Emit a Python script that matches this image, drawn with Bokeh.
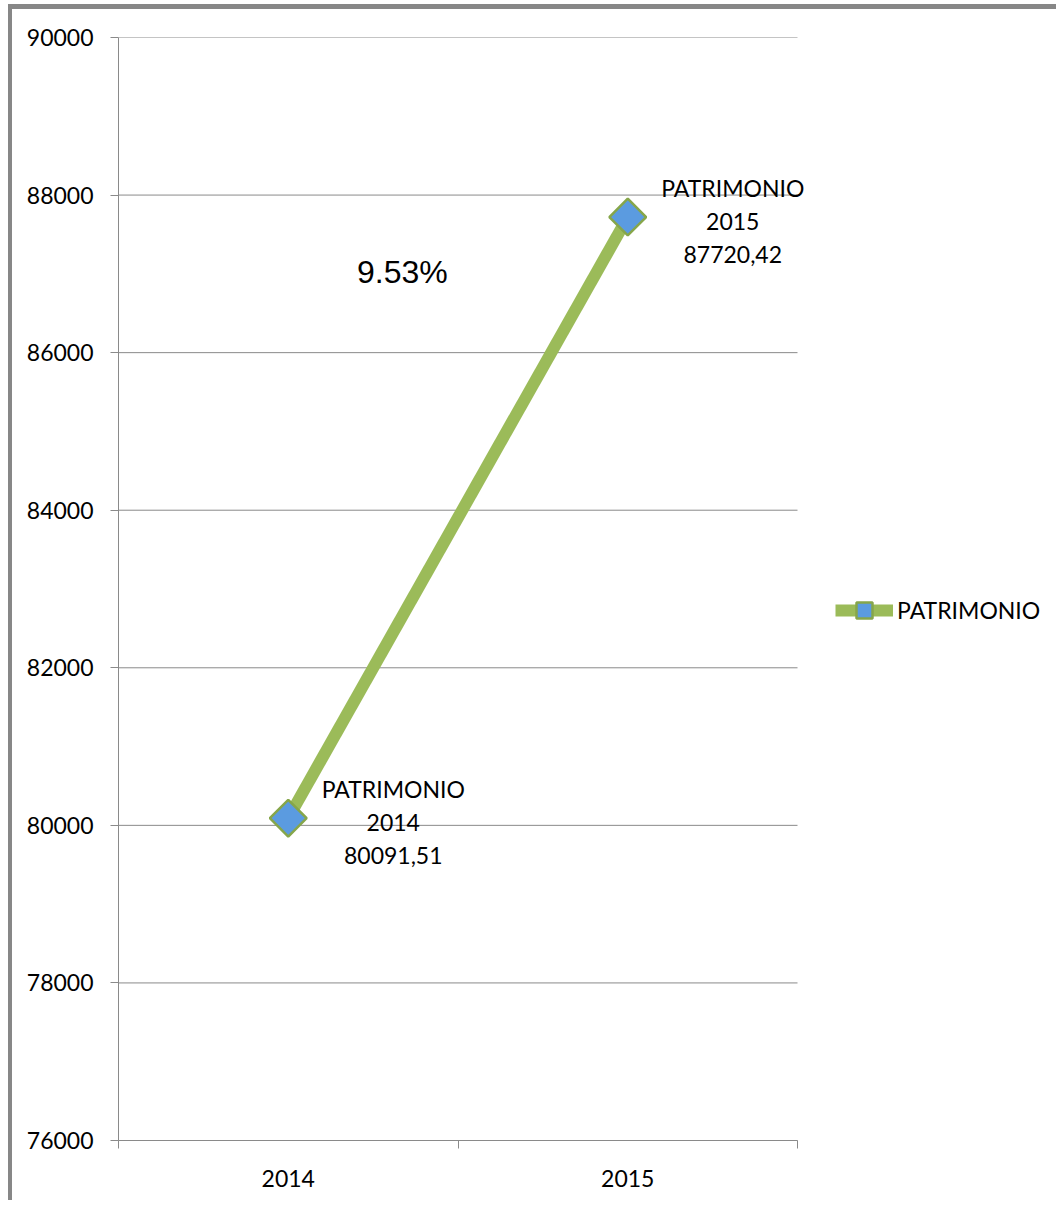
from bokeh.plotting import figure
from bokeh.models import ColumnDataSource, FixedTicker, Legend, LegendItem, Label
from bokeh.core.properties import value
from bokeh.embed import file_html
from bokeh.resources import INLINE
import math

categories = ["2014", "2015"]
patrimonio = [80091.51, 87720.42]
value_labels = ["80091,51", "87720,42"]
series_name = "PATRIMONIO"
y_ticks = [76000, 78000, 80000, 82000, 84000, 86000, 88000, 90000]
growth_label = "9.53%"

n = len(categories)
xs = [i + 0.5 for i in range(n)]
src = ColumnDataSource(dict(x=xs, y=patrimonio, name=[series_name] * n,
                            cat=categories, val=value_labels))

GRAY = "#8a8a8a"
FONT = "Lato"
LINE_C = "#9BBB59"
MARK_FILL = "#5B9BE0"
MARK_LINE = "#86A64A"

# canvas layout: the category area takes 679 px of a 942 px wide frame;
# the rest of the frame on the right holds the legend
W, H = 1048, 1196
LEFT, TOP, BOTTOM = 106, 28, 65
CAT_PX, FRAME_PX = 679, W - LEFT

p = figure(width=W, height=H, output_backend="svg", toolbar_location=None,
           x_range=(0, n * FRAME_PX / CAT_PX), y_range=(y_ticks[0], y_ticks[-1]),
           min_border_left=LEFT, min_border_right=0, min_border_top=TOP, min_border_bottom=BOTTOM,
           styles={"margin-left": "8px", "margin-top": "4px",
                   "border-top": "5px solid #878787", "border-left": "4px solid #878787"})
p.outline_line_color = None
p.background_fill_color = "white"
p.border_fill_color = "white"

# y axis
p.yaxis.ticker = FixedTicker(ticks=y_ticks)
p.yaxis.axis_line_color = GRAY
p.yaxis.major_tick_line_color = GRAY
p.yaxis.major_tick_out = 8
p.yaxis.major_tick_in = 0
p.yaxis.minor_tick_line_color = None
p.yaxis.major_label_text_font = FONT
p.yaxis.major_label_text_font_size = "23px"
p.yaxis.major_label_text_color = "black"
p.yaxis.major_label_standoff = 17

# x axis (category labels centred, tick marks on the category boundaries)
p.xaxis.ticker = FixedTicker(ticks=xs, minor_ticks=list(range(n + 1)))
p.xaxis.bounds = (0, n)
p.xaxis.major_label_overrides = {x: c for x, c in zip(xs, categories)}
p.xaxis.axis_line_color = GRAY
p.xaxis.major_tick_line_color = None
p.xaxis.major_tick_out = 0
p.xaxis.major_tick_in = 0
p.xaxis.minor_tick_line_color = GRAY
p.xaxis.minor_tick_out = 8
p.xaxis.minor_tick_in = 0
p.xaxis.major_label_text_font = FONT
p.xaxis.major_label_text_font_size = "23px"
p.xaxis.major_label_text_color = "black"
p.xaxis.major_label_standoff = 21

# horizontal gridlines limited to the category area
p.xgrid.grid_line_color = None
p.ygrid.grid_line_color = None
p.segment(x0=[0] * len(y_ticks), x1=[n] * len(y_ticks), y0=y_ticks, y1=y_ticks,
          line_color=GRAY, line_width=1)

line = p.line("x", "y", source=src, line_color=LINE_C, line_width=12)
pts = p.scatter("x", "y", source=src, marker="square", angle=math.pi / 4, size=26,
                fill_color=MARK_FILL, line_color=MARK_LINE, line_width=2.5)

for field, dy in [("name", -29), ("cat", 4), ("val", 37)]:
    p.text("x", "y", text=field, source=src, x_offset=105, y_offset=dy,
           text_align="center", text_baseline="middle", text_font=value(FONT),
           text_font_size="23px", text_color="black")

p.add_layout(Label(x=0.836, y=87020, text=growth_label, text_font="Liberation Sans",
                   text_font_size="32px", text_align="center", text_baseline="middle",
                   text_color="black"))

legend = Legend(items=[LegendItem(label=series_name, renderers=[line, pts])],
                location=(717, 510), glyph_width=58, glyph_height=40, label_standoff=4,
                padding=0, margin=0, border_line_color=None, background_fill_alpha=0,
                label_text_font=FONT, label_text_font_size="23px", label_text_color="black")
p.add_layout(legend)

open("out.html", "w").write(file_html(p, INLINE))
